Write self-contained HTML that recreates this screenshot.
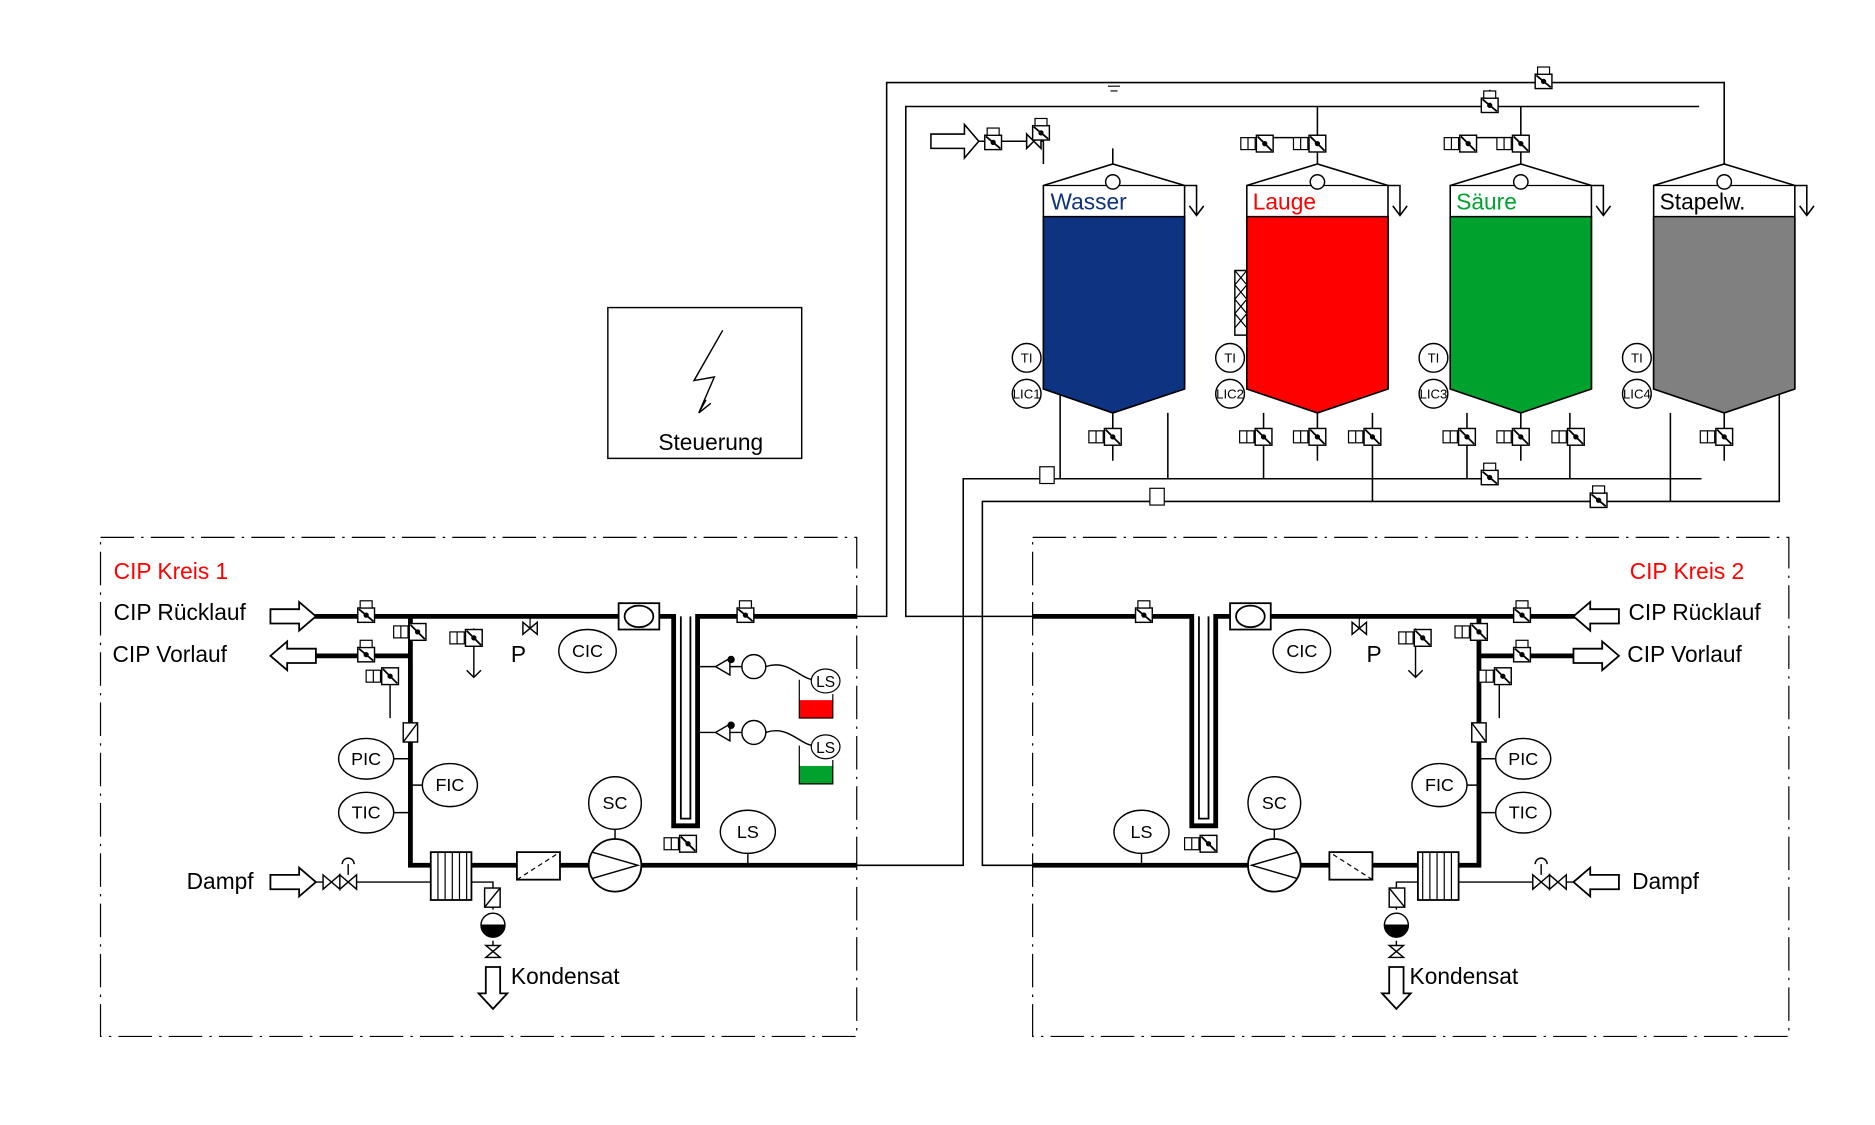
<!DOCTYPE html>
<html><head><meta charset="utf-8"><style>
html,body{margin:0;padding:0;background:#fff}
svg{display:block}
text{font-family:"Liberation Sans",sans-serif}
</style></head><body>
<svg width="1875" height="1125" viewBox="0 0 1567 940" preserveAspectRatio="none" xmlns="http://www.w3.org/2000/svg">
<defs>
<g id="vb"><rect x="-7" y="-7" width="14" height="12" fill="#fff" stroke="#000" stroke-width="1.2"/><line x1="-6" y1="-6" x2="6" y2="4" stroke="#000" stroke-width="1.5"/><circle cx="0" cy="-1" r="2.2"/><rect x="-5" y="-13" width="10" height="6" fill="#fff" stroke="#000"/></g>
<g id="vs"><rect x="-7" y="-7" width="14" height="14" fill="#fff" stroke="#000" stroke-width="1.2"/><line x1="-6" y1="-6" x2="6" y2="6" stroke="#000" stroke-width="1.5"/><circle cx="0" cy="0" r="2.2"/><rect x="-20" y="-5" width="12" height="10" fill="#fff" stroke="#000"/><line x1="-14" y1="-5" x2="-14" y2="5" stroke="#000"/></g>
<g id="loop" fill="none" stroke="#000">
 <path d="M262,515H563V690H583V515H716" stroke-width="4"/>
 <path d="M569,515V684H577V515" stroke-width="1.5"/>
 <path d="M262,548H343M343,515V723H716" stroke-width="4"/>
 <rect x="517" y="504" width="34" height="22" fill="#fff" stroke-width="1.5"/><ellipse cx="534" cy="515" rx="12" ry="9" stroke-width="1.5"/>
 <path d="M226,509H250V503L264,515L250,527V521H226Z" fill="#fff" stroke-width="1.5"/>
 <path d="M264,542H240V536L226,548L240,560V554H264Z" fill="#fff" stroke-width="1.5"/>
 <path d="M226,731H250V725L264,737L250,749V743H226Z" fill="#fff" stroke-width="1.5"/>
 <path d="M406,808V830H400L412,843L424,830H418V808Z" fill="#fff" stroke-width="1.5"/>
 <path d="M264,737H360" stroke-width="1.2"/>
 <path d="M270,731L284,743V731L270,743Z M284,731L298,743V731L284,743Z" fill="#fff" stroke-width="1.2"/>
 <path d="M291,731V722M286,722A5,5 0 0 1 296,722" stroke-width="1.2"/>
 <rect x="360" y="712" width="34" height="40" fill="#fff" stroke-width="1.5"/>
 <path d="M366,712V752M372,712V752M378,712V752M384,712V752M390,712V752" stroke-width="1"/>
 <path d="M394,737H412V760M412,786V800" stroke-width="1.2"/>
 <circle cx="412" cy="773" r="10" fill="#fff" stroke-width="1.2"/>
 <path d="M402,773A10,10 0 0 0 422,773Z" fill="#000"/>
 <path d="M406,790L418,800H406L418,790Z" fill="#fff" stroke-width="1.2"/>
 <rect x="405" y="742" width="13" height="16" fill="#fff" stroke-width="1.2"/><path d="M405,758L418,742" stroke-width="1.2"/>
 <rect x="432" y="712" width="36" height="23" fill="#fff" stroke-width="1.5"/><path d="M432,735L468,712" stroke-width="1" stroke-dasharray="4 3"/>
 <circle cx="514" cy="723" r="22" fill="#fff" stroke-width="1.5"/><path d="M495,712L533,723L495,734" stroke-width="1.2"/>
 <circle cx="514" cy="671" r="22" fill="#fff" stroke-width="1.2"/><path d="M514,693V701" stroke-width="1.2"/>
 <ellipse cx="491" cy="544" rx="24" ry="18" fill="#fff" stroke-width="1.2"/>
 <ellipse cx="306" cy="634" rx="23" ry="17" fill="#fff" stroke-width="1.2"/>
 <ellipse cx="306" cy="679" rx="23" ry="17" fill="#fff" stroke-width="1.2"/>
 <ellipse cx="376" cy="656" rx="23" ry="18" fill="#fff" stroke-width="1.2"/>
 <ellipse cx="625" cy="695" rx="23" ry="18" fill="#fff" stroke-width="1.2"/><path d="M625,713V723" stroke-width="1.2"/>
 <path d="M329,634H343M329,679H343M353,656H343" stroke-width="1.2"/>
 <rect x="337" y="604" width="12" height="16" fill="#fff" stroke-width="1.2"/><path d="M337,620L349,604" stroke-width="1.2"/>
 <path d="M437,520L449,530V520L437,530Z" fill="#fff" stroke-width="1.2"/><path d="M443,525V515" stroke-width="1"/>
 <path d="M396,525V565M390,560L396,566L402,560M326,570V600" stroke-width="1.2"/>
</g>
</defs>

<rect x="508" y="257" width="162" height="126" fill="#fff" stroke="#000" stroke-width="1.2"/>
<path d="M604,276L580,318L597,315L584,345L590,334M584,345L594,337" fill="none" stroke="#000" stroke-width="1.2"/>
<text x="594" y="376" font-size="19" text-anchor="middle">Steuerung</text>

<g fill="none" stroke="#000" stroke-width="1" stroke-dasharray="28 6 2 6">
<rect x="84" y="449" width="632" height="417"/>
<rect x="863" y="449" width="632" height="417"/>
</g>

<use href="#loop"/>
<use href="#loop" transform="translate(1579,0) scale(-1,1)"/>

<use href="#vb" x="306" y="515"/><use href="#vb" x="306" y="548"/>
<use href="#vs" x="349" y="528"/><use href="#vs" x="396" y="533"/><use href="#vs" x="326" y="565"/>
<use href="#vb" x="623" y="515"/><use href="#vs" x="575" y="705"/>
<use href="#vb" x="956" y="515"/><use href="#vb" x="1272" y="515"/><use href="#vb" x="1272" y="548"/>
<use href="#vs" x="1236" y="528"/><use href="#vs" x="1189" y="533"/><use href="#vs" x="1256" y="565"/>
<use href="#vs" x="1010" y="705"/>

<g fill="none" stroke="#000" stroke-width="1.2">
<path d="M583,557H598L610,550V564L598,557M610,557H620M583,612H598L610,605V619L598,612M610,612H620"/>
<circle cx="630" cy="557" r="10" fill="#fff"/><circle cx="630" cy="612" r="10" fill="#fff"/>
<path d="M640,557C660,550 670,570 683,568M640,612C660,605 670,625 683,623"/>
<circle cx="611" cy="551" r="2.5" fill="#000"/><circle cx="611" cy="606" r="2.5" fill="#000"/>
</g>
<rect x="668" y="585" width="28" height="15" fill="#ff0000"/><path d="M668,568V600H696V580" fill="none" stroke="#000"/>
<rect x="668" y="640" width="28" height="15" fill="#00a22e"/><path d="M668,623V655H696V635" fill="none" stroke="#000"/>
<ellipse cx="690" cy="569" rx="12" ry="10" fill="#fff" stroke="#000"/><ellipse cx="690" cy="624" rx="12" ry="10" fill="#fff" stroke="#000"/>

<g fill="none" stroke="#000" stroke-width="1.3">
<path d="M716,515H741V69H1441V137"/>
<path d="M863,515H757V89H1420"/>
<path d="M716,723H805V400H1422"/>
<path d="M863,723H821V419H1487V330"/>
<path d="M930,137V124M1101,89V137M1271,89V137M1245,89V75M1290,69V60M1441,137V69"/>
<path d="M1057,115H1101M1227,115H1271"/>
<path d="M886,330V400M976,345V400M1056,345V400M1147,345V419M1226,345V400M1312,345V400M1396,345V419"/>
<path d="M930,345V385M1101,345V385M1271,345V385M1441,345V385"/>
<path d="M778,112H806V104L818,118L806,132V124H778Z" fill="#fff"/>
<path d="M818,118H872V137"/>
<path d="M858,112L870,124V112L858,124Z" fill="#fff"/>
</g>
<use href="#vb" x="830" y="120"/><use href="#vb" x="870" y="112"/><use href="#vb" x="1290" y="69"/><use href="#vb" x="1245" y="89"/>
<use href="#vb" x="1245" y="400"/><use href="#vb" x="1336" y="419"/>
<use href="#vs" x="1057" y="120"/><use href="#vs" x="1101" y="120"/><use href="#vs" x="1227" y="120"/><use href="#vs" x="1271" y="120"/>
<use href="#vs" x="930" y="365"/><use href="#vs" x="1101" y="365"/><use href="#vs" x="1271" y="365"/><use href="#vs" x="1441" y="365"/>
<use href="#vs" x="1056" y="365"/><use href="#vs" x="1147" y="365"/><use href="#vs" x="1226" y="365"/><use href="#vs" x="1317" y="365"/>
<rect x="869" y="390" width="12" height="14" fill="#fff" stroke="#000"/><rect x="961" y="408" width="12" height="14" fill="#fff" stroke="#000"/>
<path d="M926,72H936M928,76H934" stroke="#000"/>

<g stroke="#000" stroke-width="1.3">
<path d="M872,155L930,137L990,155V325L930,345L872,325Z" fill="#fff"/>
<path d="M872,181H990V325L930,345L872,325Z" fill="#0e3380"/>
<path d="M1042,155L1101,137L1160,155V325L1101,345L1042,325Z" fill="#fff"/>
<path d="M1042,181H1160V325L1101,345L1042,325Z" fill="#ff0000"/>
<path d="M1212,155L1271,137L1330,155V325L1271,345L1212,325Z" fill="#fff"/>
<path d="M1212,181H1330V325L1271,345L1212,325Z" fill="#00a22e"/>
<path d="M1382,155L1441,137L1500,155V325L1441,345L1382,325Z" fill="#fff"/>
<path d="M1382,181H1500V325L1441,345L1382,325Z" fill="#808080"/>
<path d="M990,155H1000V180M994,172L1000,180L1006,172M1160,155H1170V180M1164,172L1170,180L1176,172M1330,155H1340V180M1334,172L1340,180L1346,172M1500,155H1510V180M1504,172L1510,180L1516,172" fill="none"/>
<path d="M872,155H990M1042,155H1160M1212,155H1330M1382,155H1500" fill="none" stroke-width="1"/>
</g>
<g fill="#fff" stroke="#000" stroke-width="1.2">
<circle cx="930" cy="152" r="6"/><circle cx="1101" cy="152" r="6"/><circle cx="1271" cy="152" r="6"/><circle cx="1441" cy="152" r="6"/>
<path d="M1032,226V280H1042V226Z" fill="none"/>
</g>
<path d="M1032,226L1042,238M1032,238L1042,250M1032,250L1042,262M1032,262L1042,274M1042,226L1032,238M1042,238L1032,250M1042,250L1032,262M1042,262L1032,274" stroke="#000"/>
<g fill="#fff" stroke="#000" stroke-width="1.2">
<circle cx="858" cy="299" r="12"/><circle cx="858" cy="329" r="12"/>
<circle cx="1028" cy="299" r="12"/><circle cx="1028" cy="329" r="12"/>
<circle cx="1198" cy="299" r="12"/><circle cx="1198" cy="329" r="12"/>
<circle cx="1368" cy="299" r="12"/><circle cx="1368" cy="329" r="12"/>
</g>
<g font-size="19">
<text x="878" y="175" fill="#0e3380">Wasser</text>
<text x="1047" y="175" fill="#ff0000">Lauge</text>
<text x="1217" y="175" fill="#00a22e">Säure</text>
<text x="1387" y="175">Stapelw.</text>
</g>
<g font-size="11" font-family="Liberation Mono,monospace" text-anchor="middle">
<text x="858" y="303">TI</text><text x="858" y="333">LIC1</text>
<text x="1028" y="303">TI</text><text x="1028" y="333">LIC2</text>
<text x="1198" y="303">TI</text><text x="1198" y="333">LIC3</text>
<text x="1368" y="303">TI</text><text x="1368" y="333">LIC4</text>
</g>

<g font-size="15" font-family="Liberation Mono,monospace" text-anchor="middle">
<text x="491" y="549">CIC</text><text x="306" y="639">PIC</text><text x="306" y="684">TIC</text><text x="376" y="661">FIC</text>
<text x="514" y="676">SC</text><text x="625" y="700">LS</text><text x="690" y="574" font-size="13">LS</text><text x="690" y="629" font-size="13">LS</text>
<text x="1088" y="549">CIC</text><text x="1273" y="639">PIC</text><text x="1273" y="684">TIC</text><text x="1203" y="661">FIC</text>
<text x="1065" y="676">SC</text><text x="954" y="700">LS</text>
</g>
<g font-size="19">
<text x="95" y="484" fill="#ff0000">CIP Kreis 1</text>
<text x="95" y="518">CIP Rücklauf</text>
<text x="94" y="553">CIP Vorlauf</text>
<text x="156" y="743">Dampf</text>
<text x="427" y="822">Kondensat</text>
<text x="427" y="553">P</text>
<text x="1362" y="484" fill="#ff0000">CIP Kreis 2</text>
<text x="1361" y="518">CIP Rücklauf</text>
<text x="1360" y="553">CIP Vorlauf</text>
<text x="1364" y="743">Dampf</text>
<text x="1178" y="822">Kondensat</text>
<text x="1142" y="553">P</text>
</g>
</svg>
</body></html>
